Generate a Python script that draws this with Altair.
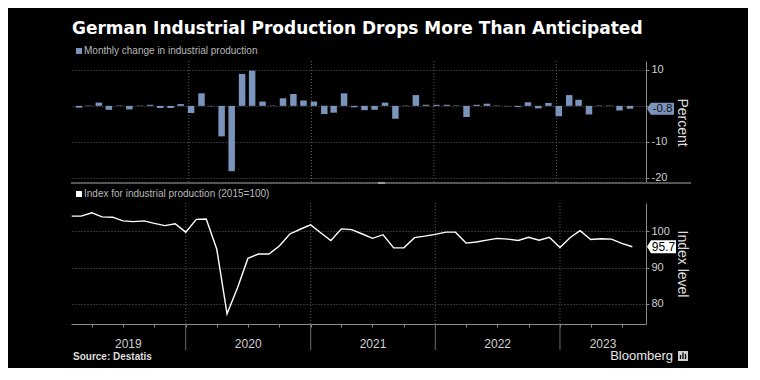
import altair as alt
import pandas as pd

# ---------------- data ----------------
TITLE = "German Industrial Production Drops More Than Anticipated"
LEG1 = "Monthly change in industrial production"
LEG2 = "Index for industrial production (2015=100)"
SOURCE = "Source:  Destatis"
BRAND = "Bloomberg"
Y1_TITLE = "Percent"
Y2_TITLE = "Index level"

first_month = "2019-01-01"
last_month = "2023-07-01"

# monthly % change, Jan 2019 .. Jul 2023
mom_change = [
    -0.5, 0.1, 0.9, -1.1, 0.1, -1.0, 0.1, 0.3, -0.6, -0.6, 0.5, -2.0,
    3.5, -0.1, -8.5, -18.2, 8.9, 9.8, 1.2, 0.1, 2.1, 3.3, 1.5, 1.2,
    -2.3, -1.9, 3.5, -0.4, -1.2, -1.1, 0.9, -3.6, 0.1, 3.0, 0.3, 0.3,
    0.3, 0.1, -3.1, 0.3, 0.6, 0.1, -0.1, -0.3, 1.0, -0.7, 0.8, -2.9,
    3.0, 1.7, -2.4, 0.1, 0.1, -1.3, -0.8,
]
# index level (2015=100), Jan 2019 .. Jul 2023
ip_index = [
    104.1, 104.1, 105.0, 103.9, 103.8, 102.8, 102.6, 102.8, 102.1, 101.5, 102.0, 99.7,
    103.2, 103.3, 95.0, 77.3, 84.5, 92.5, 93.7, 93.7, 95.9, 99.2, 100.5, 101.7,
    99.4, 97.4, 100.6, 100.4, 99.2, 98.0, 99.0, 95.4, 95.4, 98.2, 98.6, 99.1,
    99.7, 99.7, 96.7, 97.0, 97.5, 98.0, 97.8, 97.4, 98.3, 97.5, 98.3, 95.5,
    98.3, 100.1, 97.7, 97.9, 97.8, 96.6, 95.7,
]
years = [2019, 2020, 2021, 2022, 2023]
y1_ticks = [-20, -10, 0, 10]
y2_ticks = [80, 90, 100]
y1_domain = [-21.5, 12.5]
y2_domain = [74.5, 107.7]
x_start = "2019-01-30"
x_end = "2023-09-10"

# ---------------- styling ----------------
W, H1, H2 = 575, 122, 121
BG = "#000000"
BAR = "#7b94bb"
GRID = "#5e5e5e"
AXIS = "#8a8a8a"
LABEL = "#cfcfcf"
FONT = "Liberation Sans"

months = pd.date_range(first_month, last_month, freq="MS")
plot_dates = months + pd.offsets.MonthBegin(1)
df = pd.DataFrame({
    "date": plot_dates.strftime("%Y-%m-%d"),
    "bar_date": (plot_dates + pd.Timedelta(days=7)).strftime("%Y-%m-%d"),
    "change": mom_change,
    "index": ip_index,
})
df["change_lbl"] = [f"{v:.1f}" for v in mom_change]
df["index_lbl"] = [f"{v:.1f}" for v in ip_index]
last = df.tail(1)

xs, xe = pd.Timestamp(x_start), pd.Timestamp(x_end)
bounds = pd.DataFrame({"date": [f"{y}-01-01" for y in years[1:]]})
lab_pos = []
for y in years:
    a = max(xs, pd.Timestamp(f"{y}-01-01"))
    b = min(xe, pd.Timestamp(f"{y + 1}-01-01"))
    lab_pos.append((a + (b - a) / 2).strftime("%Y-%m-%dT%H:%M:%SZ"))
year_df = pd.DataFrame({"date": lab_pos, "label": [str(y) for y in years]})

quarters = pd.date_range("2019-04-01", "2023-07-01", freq="QS")
q_values = [alt.DateTime(year=d.year, month=d.month, date=1, utc=True) for d in quarters]

xscale = alt.Scale(type="utc", domain=[
    alt.DateTime(year=xs.year, month=xs.month, date=xs.day, utc=True),
    alt.DateTime(year=xe.year, month=xe.month, date=xe.day, utc=True)])
ys1 = alt.Scale(domain=y1_domain, nice=False, zero=False)
ys2 = alt.Scale(domain=y2_domain, nice=False, zero=False)


def txt_df(s):
    return pd.DataFrame({"t": [s]})


TAG = "M-1,0L-0.72,-0.45L1,-0.45L1,0.45L-0.72,0.45Z"

yaxis1 = alt.Axis(
    orient="right", values=y1_ticks, grid=True, gridDash=[1, 2], gridColor=GRID,
    domainColor=AXIS, tickColor=AXIS, tickSize=3, labelPadding=2,
    labelColor=LABEL, labelFontSize=11, labelFont=FONT,
    labelExpr="datum.value === 0 ? '' : '' + datum.value",
    title=Y1_TITLE, titleAngle=90, titleX=35, titleY=H1 / 2,
    titleAlign="center", titleBaseline="middle", titleFont=FONT,
    titleFontSize=14, titleFontWeight="normal", titleColor="#dddddd")
yaxis2 = alt.Axis(
    orient="right", values=y2_ticks, grid=True, gridDash=[1, 2], gridColor=GRID,
    domainColor=AXIS, tickColor=AXIS, tickSize=3, labelPadding=2,
    labelColor=LABEL, labelFontSize=11, labelFont=FONT,
    title=Y2_TITLE, titleAngle=90, titleX=35, titleY=H2 / 2,
    titleAlign="center", titleBaseline="middle", titleFont=FONT,
    titleFontSize=14, titleFontWeight="normal", titleColor="#dddddd")
xaxis2 = alt.Axis(values=q_values, labels=False, ticks=True, tickSize=3, grid=False,
                  title=None, domainColor=AXIS, tickColor=AXIS)

Y1 = alt.Y("change:Q", scale=ys1, axis=yaxis1)
Y2 = alt.Y("index:Q", scale=ys2, axis=yaxis2)
X1 = alt.X("date:T", scale=xscale, axis=None)
X2 = alt.X("date:T", scale=xscale, axis=xaxis2)

# ---------------- panel 1 ----------------
vgrid1 = alt.Chart(bounds).mark_rule(color=GRID, strokeDash=[1, 2], strokeWidth=1).encode(x=X1)
bars = alt.Chart(df).mark_bar(color=BAR, width=6.5).encode(
    x=alt.X("bar_date:T", scale=xscale, axis=None), y=Y1)
title_tx = alt.Chart(txt_df(TITLE)).mark_text(
    align="left", baseline="alphabetic", font="DejaVu Sans", fontSize=17,
    fontWeight="bold", color="#ffffff").encode(x=alt.value(1), y=alt.value(-27), text="t:N")
leg1_sq = alt.Chart(txt_df(LEG1)).mark_square(color=BAR, size=36, opacity=1, filled=True).encode(
    x=alt.value(8), y=alt.value(-10))
leg1_tx = alt.Chart(txt_df(LEG1)).mark_text(align="left", baseline="middle", font=FONT,
                                           fontSize=10, color="#b8b8b8").encode(
    x=alt.value(13), y=alt.value(-10), text="t:N")
sep = alt.Chart(txt_df("")).mark_rule(color="#555555", strokeWidth=2).encode(
    x=alt.value(0), x2=alt.value(W + 45), y=alt.value(H1))
handle = alt.Chart(txt_df("")).mark_rule(color="#9a9a9a", strokeWidth=2).encode(
    x=alt.value(307), x2=alt.value(314), y=alt.value(H1))
box1 = alt.Chart(last).mark_point(shape=TAG, size=729, filled=True, opacity=1, color=BAR).encode(
    x=alt.value(W + 14.5), y=Y1)
box1_tx = alt.Chart(last).mark_text(font=FONT, fontSize=11.5, color="#111111",
                                    align="center", baseline="middle").encode(
    x=alt.value(W + 16.5), y=Y1, text="change_lbl:N")

p1 = alt.layer(vgrid1, bars, title_tx, leg1_sq, leg1_tx, sep, handle, box1, box1_tx).properties(
    width=W, height=H1)

# ---------------- panel 2 ----------------
vgrid2 = alt.Chart(bounds).mark_rule(color=GRID, strokeDash=[1, 2], strokeWidth=1).encode(x=X2)
ysep = alt.Chart(bounds).mark_rule(color="#6a6a6a", strokeWidth=1).encode(
    x=X2, y=alt.value(H2), y2=alt.value(H2 + 26))
line = alt.Chart(df).mark_line(color="#ffffff", strokeWidth=1.4).encode(x=X2, y=Y2)
ylabels = alt.Chart(year_df).mark_text(font=FONT, fontSize=12, color=LABEL,
                                       align="center", baseline="alphabetic").encode(
    x=X2, y=alt.value(H2 + 24), text="label:N")
leg2_sq = alt.Chart(txt_df(LEG2)).mark_square(color="#ffffff", size=36, opacity=1, filled=True).encode(
    x=alt.value(8), y=alt.value(-9))
leg2_tx = alt.Chart(txt_df(LEG2)).mark_text(align="left", baseline="middle", font=FONT,
                                           fontSize=10, color="#b8b8b8").encode(
    x=alt.value(13), y=alt.value(-9), text="t:N")
box2 = alt.Chart(last).mark_point(shape=TAG, size=841, filled=True, opacity=1, color="#ffffff").encode(
    x=alt.value(W + 15.5), y=Y2)
box2_tx = alt.Chart(last).mark_text(font=FONT, fontSize=12, color="#000000",
                                    align="center", baseline="middle").encode(
    x=alt.value(W + 17.5), y=Y2, text="index_lbl:N")
src = alt.Chart(txt_df(SOURCE)).mark_text(align="left", baseline="alphabetic", font=FONT,
                                          fontSize=10, fontWeight="bold", color="#dddddd").encode(
    x=alt.value(2), y=alt.value(H2 + 36), text="t:N")
brand = alt.Chart(txt_df(BRAND)).mark_text(align="right", baseline="alphabetic", font=FONT,
                                           fontSize=13, fontWeight=500, color="#e6e6e6").encode(
    x=alt.value(W + 27), y=alt.value(H2 + 36), text="t:N")
logo = alt.Chart(txt_df(BRAND)).mark_square(color="#cfcfcf", size=100, opacity=1, filled=True,
                                            cornerRadius=2).encode(
    x=alt.value(W + 37), y=alt.value(H2 + 32))
logo_b1 = alt.Chart(txt_df("")).mark_rule(color="#000000", strokeWidth=1.3).encode(
    x=alt.value(W + 34.5), y=alt.value(H2 + 31), y2=alt.value(H2 + 35))
logo_b2 = alt.Chart(txt_df("")).mark_rule(color="#000000", strokeWidth=1.3).encode(
    x=alt.value(W + 37), y=alt.value(H2 + 28.5), y2=alt.value(H2 + 35))
logo_b3 = alt.Chart(txt_df("")).mark_rule(color="#000000", strokeWidth=1.3).encode(
    x=alt.value(W + 39.5), y=alt.value(H2 + 30), y2=alt.value(H2 + 35))

p2 = alt.layer(vgrid2, ysep, line, ylabels, leg2_sq, leg2_tx, box2, box2_tx, src, brand,
               logo, logo_b1, logo_b2, logo_b3).properties(width=W, height=H2)

chart = alt.vconcat(p1, p2, spacing=20, bounds="flush").properties(
    padding={"left": 60, "top": 12, "right": 56, "bottom": 5},
    background=BG,
).configure_view(stroke=None)

chart.save("out.html", embed_options={"renderer": "svg", "actions": False})
